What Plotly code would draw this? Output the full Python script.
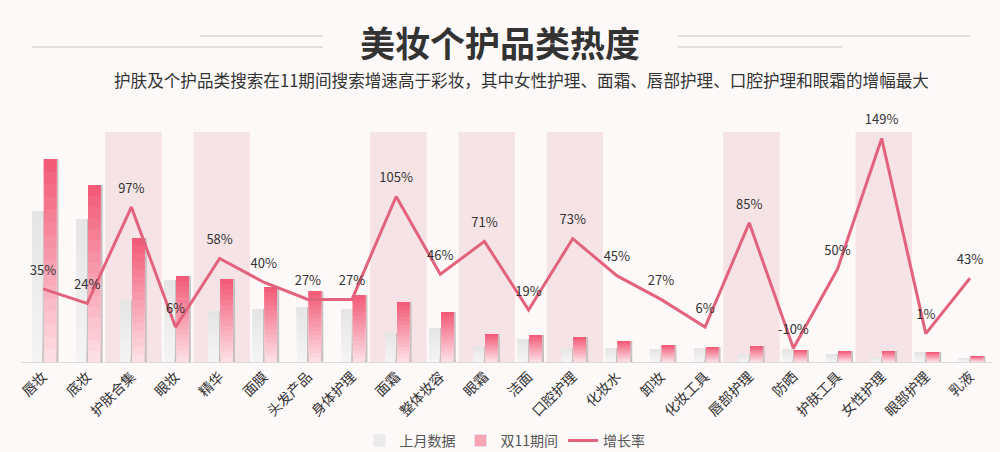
import plotly.graph_objects as go

categories = ["唇妆", "底妆", "护肤合集", "眼妆", "精华", "面膜", "头发产品", "身体护理", "面霜", "整体妆容",
              "眼霜", "洁面", "口腔护理", "化妆水", "卸妆", "化妆工具", "唇部护理", "防晒", "护肤工具", "女性护理",
              "眼部护理", "乳液"]
last_month = [151, 143, 62, 82, 51, 53, 55, 53, 29, 34, 16, 23, 14, 14, 13, 14, 8, 13, 8, 4.5, 10, 4]
double11 = [203, 177, 124, 86, 83, 75, 71, 67, 60, 50, 28, 27, 25, 21, 17, 15, 16, 12, 11, 11, 10, 6]
growth = [35, 24, 97, 6, 58, 40, 27, 27, 105, 46, 71, 19, 73, 45, 27, 6, 85, -10, 50, 149, 1, 43]
highlighted = ["护肤合集", "精华", "面霜", "眼霜", "口腔护理", "唇部护理", "女性护理"]

W, H = 1000, 452
L, R, T, B = 21, 8, 130, 90
PW, PH = W - L - R, H - T - B


def px(x):
    return (x - L) / PW


def py(y):
    return (H - B - y) / PH


FONT = "Noto Sans CJK SC, Noto Sans, sans-serif"
BG = "#fdf9f9"

fig = go.Figure()


def lerp(c0, c1, t):
    return "rgb(%d,%d,%d)" % tuple(round(a + (b - a) * t) for a, b in zip(c0, c1))


NSEG = 16
series = [
    (last_month, -0.25, 0.23, (245, 245, 245), (228, 228, 228)),
    (double11, 0.02, 0.28, (253, 226, 232), (242, 88, 117)),
]
for vals, off, wid, cbot, ctop in series:
    # shadow
    fig.add_trace(go.Bar(x=categories, y=vals, offset=off + 0.05, width=wid,
                         marker=dict(color="#c9c0c2", line=dict(width=0)),
                         showlegend=False, hoverinfo="skip"))
    for j in range(NSEG):
        fig.add_trace(go.Bar(
            x=categories,
            y=[v * (1 - j / NSEG) for v in vals],
            base=[v * j / NSEG for v in vals],
            offset=off, width=wid,
            marker=dict(color=lerp(cbot, ctop, (j + 0.5) / NSEG), line=dict(width=0)),
            showlegend=False, hoverinfo="skip"))

fig.add_trace(go.Scatter(
    x=categories, y=growth, yaxis="y2",
    mode="lines+markers+text",
    line=dict(color="#e2637b", width=3),
    marker=dict(size=16, color="rgba(0,0,0,0)"),
    text=[f"{g}%" for g in growth], textposition="top center",
    textfont=dict(family=FONT, size=13, color="#333333"),
    cliponaxis=False,
    showlegend=False))

# legend entries
fig.add_trace(go.Bar(x=[None], y=[None], name="上月数据", marker_color="#ebebeb", legendrank=1))
fig.add_trace(go.Bar(x=[None], y=[None], name="双11期间", marker_color="#f6a3b3", legendrank=2))
fig.add_trace(go.Scatter(x=[None], y=[None], name="增长率", mode="lines",
                         line=dict(color="#e2637b", width=3), legendrank=3))

shapes = []
for c in highlighted:
    i = categories.index(c)
    shapes.append(dict(type="rect", xref="x", yref="paper", x0=i - 0.59, x1=i + 0.69,
                       y0=0, y1=py(132), fillcolor="#f5e3e6", line=dict(width=0), layer="below"))
# title decorations
for x0, x1, y in [(200, 323, 36), (32, 323, 47), (678, 970, 36), (678, 842, 47)]:
    shapes.append(dict(type="line", xref="paper", yref="paper", x0=px(x0), x1=px(x1),
                       y0=py(y), y1=py(y), line=dict(color="#d9d6d6", width=1.5)))

annotations = [
    dict(text="<b>美妆个护品类热度</b>", xref="paper", yref="paper", x=px(500), y=py(41),
         showarrow=False, font=dict(family=FONT, size=35, color="#333333"), xanchor="center", yanchor="middle"),
    dict(text="护肤及个护品类搜索在11期间搜索增速高于彩妆，其中女性护理、面霜、唇部护理、口腔护理和眼霜的增幅最大",
         xref="paper", yref="paper", x=px(521), y=py(80), showarrow=False,
         font=dict(family=FONT, size=16.6, color="#333333"), xanchor="center", yanchor="middle"),
]

fig.update_layout(
    width=W, height=H,
    margin=dict(l=L, r=R, t=T, b=B, autoexpand=False),
    paper_bgcolor=BG, plot_bgcolor=BG,
    barmode="overlay",
    font=dict(family=FONT, color="#333333"),
    xaxis=dict(range=[-0.5, 21.5], tickangle=-45, showgrid=False, zeroline=False,
               showline=True, linecolor="#dedada", linewidth=1, ticks="", automargin=False,
               tickfont=dict(family=FONT, size=14, color="#333333")),
    yaxis=dict(range=[0, PH], visible=False),
    yaxis2=dict(range=[-20.47, 155.4], overlaying="y", visible=False),
    shapes=shapes,
    annotations=annotations,
    legend=dict(orientation="h", x=px(505), xanchor="center", y=py(441), yanchor="middle",
                font=dict(family=FONT, size=14, color="#555555"), itemwidth=30,
                bgcolor="rgba(0,0,0,0)"),
    showlegend=True,
)

fig.write_html("out.html")
